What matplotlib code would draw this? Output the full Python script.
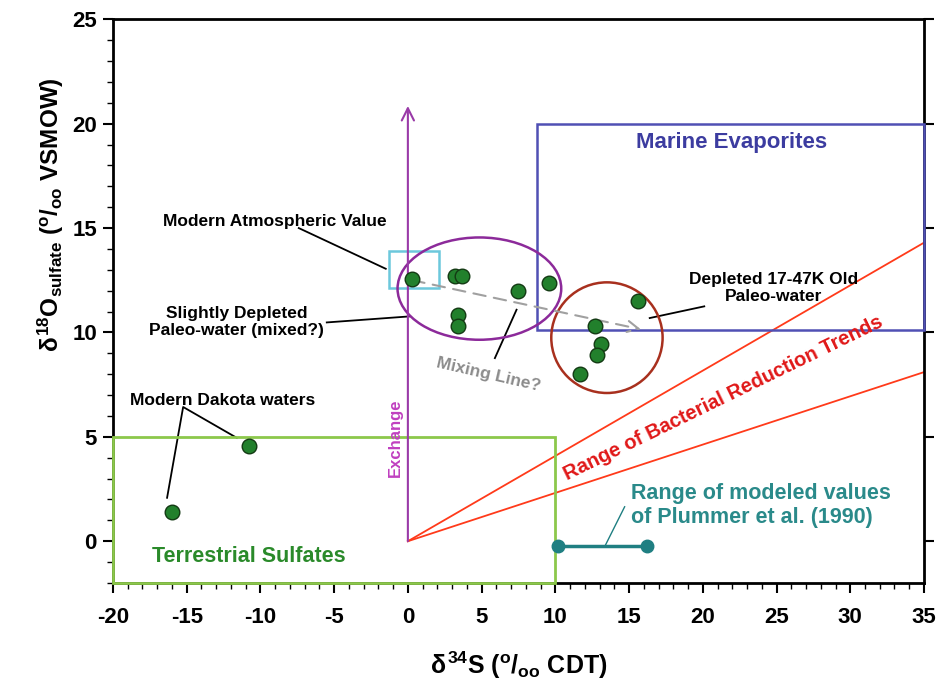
import numpy as np
import matplotlib.pyplot as plt
from matplotlib.patches import Rectangle, Ellipse
from matplotlib.ticker import MultipleLocator

plt.rcParams['font.family'] = 'Liberation Sans'
plt.rcParams['font.weight'] = 'bold'
plt.rcParams['axes.unicode_minus'] = False
plt.rcParams['mathtext.fontset'] = 'custom'
plt.rcParams['mathtext.rm'] = 'Liberation Sans:bold'
plt.rcParams['mathtext.it'] = 'Liberation Sans:bold'
plt.rcParams['mathtext.bf'] = 'Liberation Sans:bold'

# measured samples (d34S, d18O)
paleo_s = [0.25, 3.2, 3.7, 7.5, 9.6, 3.4, 3.4, 15.6, 12.7, 13.1, 12.8, 11.7]
paleo_o = [12.55, 12.7, 12.7, 12.0, 12.35, 10.85, 10.3, 11.5, 10.3, 9.45, 8.9, 8.0]
dakota_s = [-16.0, -10.8]
dakota_o = [1.4, 4.55]

# modeled range of Plummer et al. (1990)
plummer_s = [10.2, 16.2]
plummer_o = [-0.25, -0.25]

# bacterial reduction trends, from origin to x = 35
trend_s = [0, 35]
trend_hi = [0, 14.3]
trend_lo = [0, 8.1]

# mixing line endpoints
mix_s = [0.3, 15.8]
mix_o = [12.5, 10.15]

f = plt.figure(figsize=(9.39, 6.82), dpi=100)
ax = f.add_axes([0.1203, 0.1452, 0.8637, 0.8265])
ax.set_xlim(-20, 35)
ax.set_ylim(-2, 25)

# fields
ax.add_patch(Rectangle((-20, -2), 30, 7, fill=False, ec="#8cc84b", lw=2,
                       clip_on=False, zorder=3))
ax.add_patch(Rectangle((8.75, 10.1), 26.25, 9.9, fill=False, ec="#5050b4",
                       lw=1.8, clip_on=False, zorder=3))
ax.add_patch(Rectangle((-1.3, 12.15), 3.4, 1.75, fill=False, ec="#6cc8dc",
                       lw=1.8, zorder=3))
ax.add_patch(Ellipse((4.85, 12.1), 11.1, 4.9, fill=False, ec="#8c2a9a",
                     lw=1.8, zorder=3))
ax.add_patch(Ellipse((13.5, 9.75), 7.55, 5.3, fill=False, ec="#a8301e",
                     lw=1.8, zorder=3))

# exchange arrow
ax.annotate("", xy=(0, 20.85), xytext=(0, 0),
            arrowprops=dict(arrowstyle="->", color="#9a3aa8", lw=1.5,
                            mutation_scale=22, shrinkA=0, shrinkB=0))
ax.text(-0.88, 4.95, "Exchange", rotation=90, color="#c040c0", fontsize=12,
        ha="center", va="center")

# bacterial reduction lines
ax.plot(trend_s, trend_hi, color="#ff3a1a", lw=1.3)
ax.plot(trend_s, trend_lo, color="#ff3a1a", lw=1.3)
ax.text(21.4, 6.85, "Range of Bacterial Reduction Trends", rotation=26,
        color="#e01818", fontsize=14.5, ha="center", va="center")

# mixing line
ax.annotate("", xy=(mix_s[1], mix_o[1]), xytext=(mix_s[0], mix_o[0]),
            arrowprops=dict(arrowstyle="->", color="#a0a0a0", lw=1.5,
                            linestyle=(0, (6, 4)), mutation_scale=20,
                            shrinkA=0, shrinkB=0), zorder=3)
ax.text(5.5, 8.0, "Mixing Line?", rotation=-13, color="#8c8c8c",
        fontsize=12.5, ha="center", va="center")
ax.plot([7.37, 5.9], [11.09, 8.77], color="k", lw=1.3)

# data points
ax.plot(paleo_s, paleo_o, "o", ms=10.5, mfc="#22802c", mec="#133a13",
        mew=1, zorder=5)
ax.plot(dakota_s, dakota_o, "o", ms=10.5, mfc="#22802c", mec="#133a13",
        mew=1, zorder=5)

# plummer range
ax.plot(plummer_s, plummer_o, "-o", color="#1f7f82", lw=2.5, ms=9, zorder=5,
        clip_on=False)
ax.plot([14.7, 13.36], [1.65, -0.24], color="#1f7f82", lw=1)
ax.text(15.1, 1.72, "Range of modeled values\nof Plummer et al. (1990)",
        color="#2a8a8a", fontsize=15.5, ha="left", va="center",
        linespacing=1.15)

# labels with leaders
ax.text(-9.0, 15.3, "Modern Atmospheric Value", fontsize=12.5,
        ha="center", va="center")
ax.plot([-7.4, -1.5], [15.0, 13.05], color="k", lw=1.3)

ax.text(-11.6, 10.49, "Slightly Depleted\nPaleo-water (mixed?)",
        fontsize=12.5, ha="center", va="center", multialignment="center",
        linespacing=1.15)
ax.plot([-5.5, 0.13], [10.48, 10.77], color="k", lw=1.3)

ax.text(24.8, 12.14, "Depleted 17-47K Old\nPaleo-water", fontsize=12.5,
        ha="center", va="center", multialignment="center", linespacing=1.15)
ax.plot([20.1, 16.4], [11.25, 10.69], color="k", lw=1.3)

ax.text(-12.55, 6.75, "Modern Dakota waters", fontsize=12.5,
        ha="center", va="center")
ax.plot([-16.33, -15.24, -11.6], [2.08, 6.43, 4.95], color="k", lw=1.3)

ax.text(-10.76, -0.75, "Terrestrial Sulfates", color="#2a8a2a",
        fontsize=15.5, ha="center", va="center")
ax.text(21.95, 19.09, "Marine Evaporites", color="#3c3ca0", fontsize=16,
        ha="center", va="center")

# axes styling
ax.set_xticks(np.arange(-20, 36, 5))
ax.set_yticks(np.arange(0, 26, 5))
ax.xaxis.set_minor_locator(MultipleLocator(1))
ax.yaxis.set_minor_locator(MultipleLocator(1))
ax.tick_params(which="major", direction="out", length=7, width=1.5,
               labelsize=16, right=True)
ax.tick_params(which="minor", direction="out", length=4, width=1)
ax.tick_params(axis="y", which="minor", right=False)
ax.tick_params(axis="x", pad=10)
ax.tick_params(axis="y", pad=4.5)
for s in ax.spines.values():
    s.set_linewidth(2)

f.text(518.5 / 939, 1 - 665 / 682, r"$\delta^{34}$S ($^{o}$/$_{oo}$ CDT)",
       fontsize=18, ha="center", va="center")
f.text(51 / 939, 1 - 215 / 682,
       r"$\delta^{18}$O$_{sulfate}$ ($^{o}$/$_{oo}$ VSMOW)",
       fontsize=17.5, ha="center", va="center", rotation=90)

f.savefig("out.png", dpi=100)
